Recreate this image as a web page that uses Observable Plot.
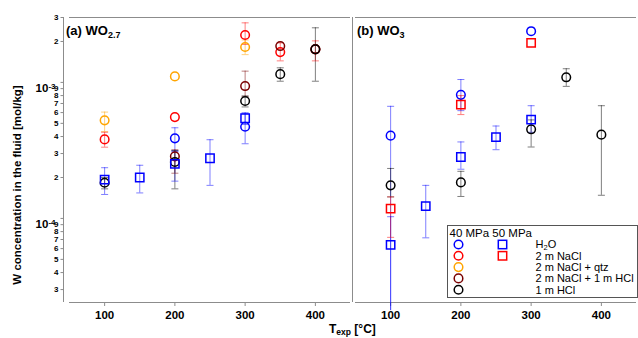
<!DOCTYPE html>
<html><head><meta charset="utf-8">
<script src="https://cdn.jsdelivr.net/npm/d3@7"></script>
<script src="https://cdn.jsdelivr.net/npm/@observablehq/plot@0.6"></script>
<style>
body{margin:0;background:#fff;}
#wrap{position:relative;width:638px;height:338px;font-family:"Liberation Sans",Arial,Helvetica,sans-serif;overflow:hidden;}
#wrap > svg, #wrap > div{position:absolute;}
.ttl{font-size:13px;font-weight:bold;line-height:13px;white-space:nowrap;color:#000;}
.ttl .sb{font-size:9px;position:relative;top:3px;}
</style></head><body><div id="wrap"></div>
<script>
// ---- scales / ticks ----
const xDomain = [50, 450];
const yDomain = [2.41e-5, 3e-3];
const xTicks = [100, 200, 300, 400];
const yMajor = [1e-4, 1e-3];
const yMinor = [3e-5,4e-5,5e-5,6e-5,7e-5,8e-5,9e-5,2e-4,3e-4,4e-4,5e-4,6e-4,7e-4,8e-4,9e-4,2e-3,3e-3];
const yLabel = "W concentration in the fluid [mol/kg]";

// ---- series ----
const media = ["H2O", "NaCl", "qtz", "NaClHCl", "HCl"];
const mediaLabels = ["H2O", "2 m NaCl", "2 m NaCl + qtz", "2 m NaCl + 1 m HCl", "1 m HCl"];
const mediaColors = ["#0000ff", "#ff0000", "#ffa500", "#7a0000", "#000000"];
const pressures = [40, 50];
const pressureLabels = ["40 MPa", "50 MPa"];
const legendCircle = [true, true, true, true, true];
const legendSquare = [true, true, false, false, false];

// ---- measured points (panel, medium, pressure, T, W, error low, error high) ----
const ptPanel = ["a","a","a","a","a","a","a","a","a","a","a","a","a","a","a","a","a","a","a","a","a","a","a","a",
                 "b","b","b","b","b","b","b","b","b","b","b","b","b","b","b","b"];
const ptMedium = ["H2O","H2O","H2O","H2O","H2O","H2O","H2O",
                  "NaCl","NaCl","NaCl","NaCl","NaCl",
                  "qtz","qtz","qtz",
                  "NaClHCl","NaClHCl","NaClHCl","NaClHCl",
                  "HCl","HCl","HCl","HCl","HCl",
                  "H2O","H2O","H2O","H2O","H2O","H2O","H2O","H2O",
                  "NaCl","NaCl","NaCl",
                  "HCl","HCl","HCl","HCl","HCl"];
const ptP = [50,50,50,50,50,40,40,
             40,40,40,40,40,
             40,40,40,
             40,40,40,40,
             40,40,40,40,40,
             40,40,40,50,50,50,50,50,
             50,50,50,
             40,40,40,40,40];
const ptT = [100,150,200,250,300,200,300,
             100,200,300,350,400,
             100,200,300,
             200,300,350,400,
             100,200,300,350,400,
             100,200,300,100,150,200,250,300,
             100,200,300,
             100,200,300,350,400];
const ptW = [1.93e-4,2.0e-4,2.52e-4,2.77e-4,5.45e-4,3.88e-4,4.72e-4,
             3.81e-4,5.56e-4,2.23e-3,1.67e-3,1.75e-3,
             5.26e-4,1.107e-3,1.82e-3,
             2.86e-4,9.4e-4,1.85e-3,1.76e-3,
             1.83e-4,2.6e-4,7.3e-4,1.15e-3,1.75e-3,
             4.06e-4,8.1e-4,2.38e-3,6.4e-5,1.23e-4,2.83e-4,3.96e-4,5.32e-4,
             1.18e-4,6.86e-4,1.95e-3,
             1.75e-4,1.84e-4,4.52e-4,1.09e-3,4.13e-4];
const ptLo = [1.50e-4,1.54e-4,1.88e-4,1.75e-4,4.9e-4,3.15e-4,3.54e-4,
              3.34e-4,null,1.9e-3,1.44e-3,1.44e-3,
              4.35e-4,null,1.60e-3,
              2.15e-4,7.9e-4,null,null,
              1.65e-4,1.65e-4,6.6e-4,1.02e-3,1.02e-3,
              2.1e-5,6.2e-4,null,2.1e-5,7.2e-5,2.3e-4,3.2e-4,4.3e-4,
              7.26e-5,5.8e-4,null,
              1.44e-4,1.45e-4,3.35e-4,9.35e-4,1.48e-4];
const ptHi = [2.36e-4,2.46e-4,3.10e-4,3.79e-4,5.95e-4,4.64e-4,5.95e-4,
              4.30e-4,null,2.74e-3,1.95e-3,2.02e-3,
              6.05e-4,null,2.05e-3,
              3.2e-4,1.21e-3,null,null,
              2.0e-4,3.15e-4,7.95e-4,1.28e-3,2.52e-3,
              6.67e-4,1.05e-3,null,1.03e-4,1.75e-4,3.65e-4,4.78e-4,6.74e-4,
              1.44e-4,8.0e-4,null,
              2.33e-4,2.22e-4,5.3e-4,1.26e-3,6.74e-4];

const rows = ptT.map((T, i) => ({panel: ptPanel[i], medium: ptMedium[i], p: ptP[i], T, W: ptW[i], lo: ptLo[i], hi: ptHi[i]}));

const axisColor = "#8c8c8c";
const font = '"Liberation Sans", Arial, Helvetica, sans-serif';
const capSymbol = {draw(ctx) { ctx.moveTo(-3.5, 0); ctx.lineTo(3.5, 0); }};
const yTickSymbol = {draw(ctx) { ctx.moveTo(-3, 0); ctx.lineTo(0, 0); }};
const mantissa = d => String(Math.round(d / Math.pow(10, Math.floor(Math.log10(d) + 1e-9))));
const decade = d => "10^" + Math.round(Math.log10(d));

function panelPlot(panel, width, marginLeft, marginRight, axisGap, withY) {
  const data = rows.filter(d => d.panel === panel);
  const err = data.filter(d => d.lo != null);
  const lowCaps = err.filter(d => d.lo >= yDomain[0]);
  const atLeft = () => xDomain[0];
  const marks = [
    Plot.ruleY([yDomain[1]], {stroke: axisColor}),
    Plot.ruleY([yDomain[0]], {stroke: axisColor}),
    Plot.ruleX([xDomain[0]], {dx: -axisGap, stroke: axisColor}),
    Plot.axisX({ticks: xTicks, tickSize: 4, tickPadding: 4, fontSize: 11.5, fontWeight: "bold", stroke: axisColor, fill: "#000", label: null}),
    Plot.ruleX(err, {x: "T", y1: "lo", y2: "hi", stroke: "medium", strokeOpacity: 0.5}),
    Plot.dot(lowCaps, {x: "T", y: "lo", symbol: capSymbol, fill: "none", stroke: "medium", strokeOpacity: 0.5, strokeWidth: 1}),
    Plot.dot(err, {x: "T", y: "hi", symbol: capSymbol, fill: "none", stroke: "medium", strokeOpacity: 0.5, strokeWidth: 1}),
    Plot.dot(data.filter(d => d.p === pressures[0]), {x: "T", y: "W", symbol: "circle", r: 4.3, fill: "none", stroke: "medium", strokeWidth: 1.5}),
    Plot.dot(data.filter(d => d.p === pressures[1]), {x: "T", y: "W", symbol: "square", r: 4.7, fill: "none", stroke: "medium", strokeWidth: 1.5})
  ];
  if (withY) {
    marks.push(
      Plot.dot(yMinor.concat(yMajor), {x: atLeft, y: d => d, dx: -axisGap, symbol: yTickSymbol, fill: "none", stroke: axisColor, strokeWidth: 1}),
      Plot.text(yMinor, {x: atLeft, y: d => d, text: mantissa, dx: -axisGap - 5, textAnchor: "end", fontSize: 8, fontWeight: "bold", fill: "#000"}),
      Plot.text(yMajor, {x: atLeft, y: d => d, text: decade, dx: -axisGap - 8, textAnchor: "end", fontSize: 11.5, fontWeight: "bold", fill: "#000"}),
      Plot.text([yLabel], {text: d => d, frameAnchor: "left", textAnchor: "middle", rotate: -90, dx: -52, dy: 25, fontSize: 11.5, fontWeight: "bold", fill: "#000"})
    );
  }
  return Plot.plot({
    width, height: 338, marginTop: 17, marginBottom: 36, marginLeft, marginRight,
    x: {domain: xDomain, axis: null},
    y: {type: "log", domain: yDomain, axis: null},
    color: {domain: media, range: mediaColors},
    style: {fontFamily: font, background: "none", overflow: "visible", maxWidth: "none", color: "#000"},
    marks
  });
}

const wrap = document.getElementById("wrap");
const pa = panelPlot("a", 352, 69, 2, 6, true);
pa.style.left = "0px"; pa.style.top = "0px";
const pb = panelPlot("b", 298, 15, 2, 3, false);
pb.style.left = "340px"; pb.style.top = "0px";
wrap.appendChild(pa);
wrap.appendChild(pb);

// superscript exponents on the decade labels
pa.querySelectorAll("text").forEach(t => {
  const m = /^10\^(-?\d+)$/.exec(t.textContent);
  if (m) {
    t.textContent = "10";
    const sup = document.createElementNS("http://www.w3.org/2000/svg", "tspan");
    sup.setAttribute("dy", "-0.45em");
    sup.setAttribute("font-size", "8");
    sup.textContent = m[1];
    t.appendChild(sup);
    t.setAttribute("dy", "0.55em");
  }
});

// panel titles
const titles = [["(a) WO", "2.7", 66], ["(b) WO", "3", 357]];
titles.forEach(([main, sub, left]) => {
  const d = document.createElement("div");
  d.className = "ttl";
  d.style.left = left + "px"; d.style.top = "23.5px";
  d.innerHTML = main + '<span class="sb">' + sub + '</span>';
  wrap.appendChild(d);
});

// x-axis title
const xl = document.createElement("div");
xl.className = "ttl";
xl.style.fontSize = "12px";
xl.style.left = "329px"; xl.style.top = "323px";
xl.innerHTML = 'T<span class="sb" style="font-size:8.5px;top:2px">exp</span> [°C]';
wrap.appendChild(xl);

// legend
const lg = d3.select(wrap).append("svg")
  .attr("width", 191).attr("height", 73)
  .style("left", "446.5px").style("top", "224.5px")
  .style("font-family", font).style("font-size", "11px");
lg.append("rect").attr("x", 0.5).attr("y", 0.5).attr("width", 190).attr("height", 72)
  .attr("fill", "#fff").attr("stroke", "#555");
lg.append("text").attr("x", 2.5).attr("y", 12).style("font-size", "11.5px").text(pressureLabels[0] + " " + pressureLabels[1]);
media.forEach((m, i) => {
  const y = 19.5 + i * 11.3;
  if (legendCircle[i]) lg.append("circle").attr("cx", 11.5).attr("cy", y).attr("r", 4.3)
    .attr("fill", "none").attr("stroke", mediaColors[i]).attr("stroke-width", 1.5);
  if (legendSquare[i]) lg.append("rect").attr("x", 55.5 - 4.2).attr("y", y - 4.2).attr("width", 8.4).attr("height", 8.4)
    .attr("fill", "none").attr("stroke", mediaColors[i]).attr("stroke-width", 1.5);
  const t = lg.append("text").attr("x", 88.5).attr("y", y + 3.8);
  if (mediaLabels[i] === "H2O") {
    t.append("tspan").text("H");
    t.append("tspan").attr("font-size", "7.5px").attr("dy", 1.5).text("2");
    t.append("tspan").attr("dy", -1.5).text("O");
  } else t.text(mediaLabels[i]);
});
</script>
</body></html>
